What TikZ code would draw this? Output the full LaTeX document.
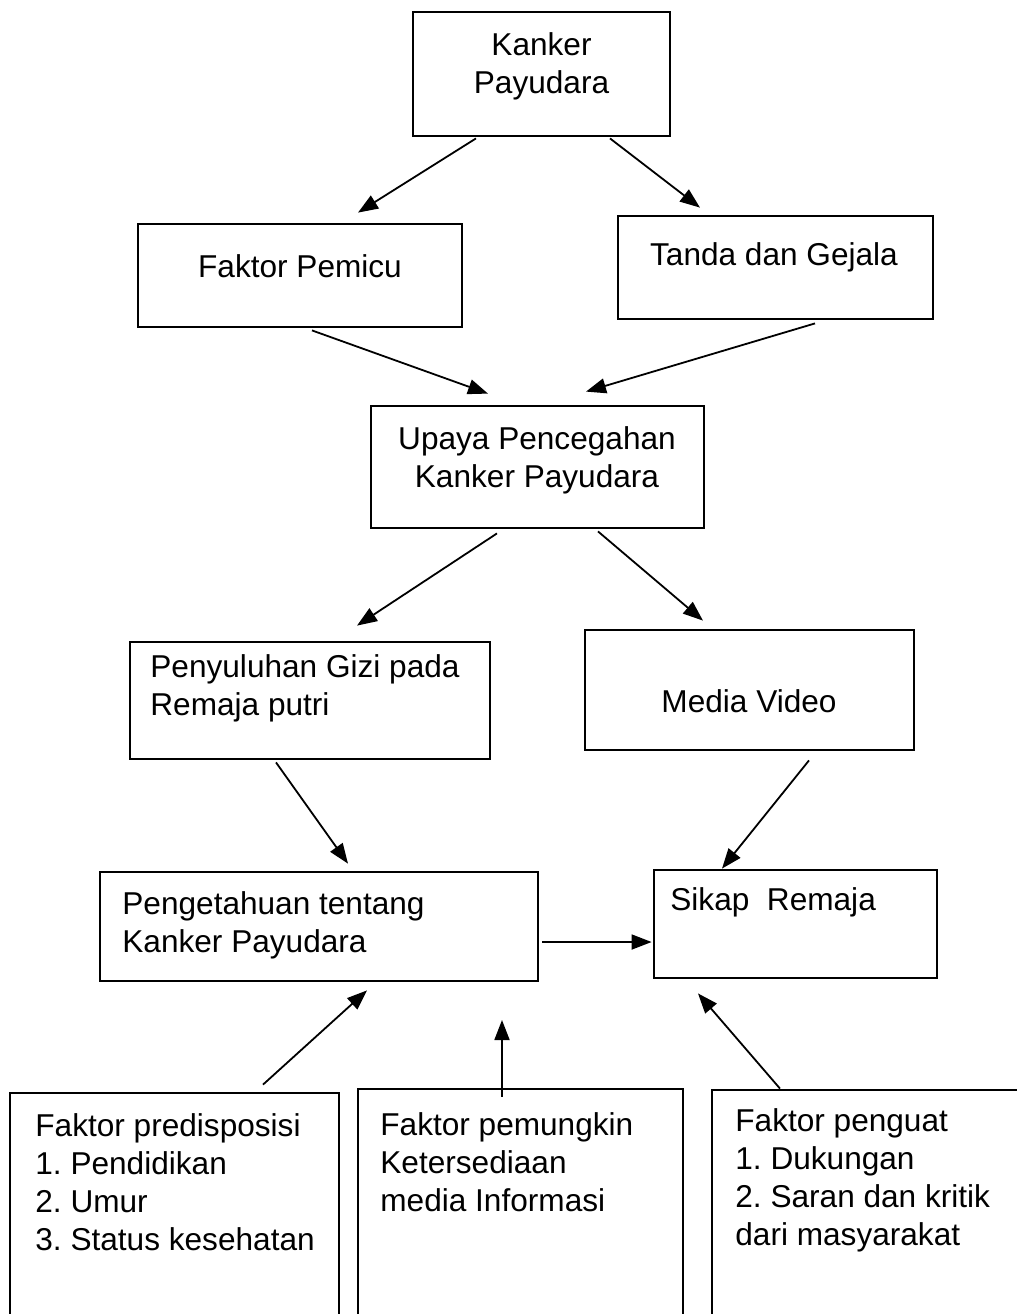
\documentclass[tikz,border=0pt]{standalone}
\usepackage{fontspec}
\setmainfont{Liberation Sans}
\usetikzlibrary{calc}
\usetikzlibrary{arrows.meta}
\frenchspacing

\tikzset{
  box/.style={draw, line width=1.4pt, inner sep=0pt},
  txt/.style={inner sep=0pt, font=\fontsize{15.8}{19}\selectfont},
  link/.style={line width=0.9pt, -{Triangle[length=10pt,width=7.5pt]}},
}

\begin{document}
\begin{tikzpicture}[x=0.5pt, y=-0.5pt]
            \useasboundingbox (0,0) rectangle (1017,1314);
            \clip (0,0) rectangle (1017,1314);
            % Top levels
            \node[box, minimum width=128.5pt, minimum height=62pt]   (kanker)      at (541.5,  74.0) {};
            \node[box, minimum width=162.0pt, minimum height=51.5pt] (pemicu)      at (300.0, 275.5) {};
            \node[box, minimum width=157.5pt, minimum height=51.5pt] (tanda)       at (775.5, 267.5) {};
            \node[box, minimum width=166.5pt, minimum height=61pt]   (upaya)       at (537.5, 467.0) {};
            \node[box, minimum width=180.0pt, minimum height=58.5pt] (penyuluhan)  at (310.0, 700.5) {};
            \node[box, minimum width=164.5pt, minimum height=60pt]   (media)       at (749.5, 690.0) {};
            \node[box, minimum width=219.0pt, minimum height=54.5pt] (pengetahuan) at (319.0, 926.5) {};
            \node[box, minimum width=141.5pt, minimum height=54pt]   (sikap)       at (795.5, 924.0) {};
            % Factor boxes (run off the page)
            \node[box, minimum width=164.5pt, minimum height=153.5pt] (pred)      at (174.5,1246.5) {};
            \node[box, minimum width=162.5pt, minimum height=155.5pt] (pemungkin) at (520.5,1244.5) {};
            \node[box, minimum width=169.0pt, minimum height=155pt]   (penguat)   at (881.0,1245.0) {};
            % Texts
            \node[txt, align=center]             (kankertxt)      at (541.5,  66) {Kanker\\Payudara};
            \node[txt]                           (pemicutxt)      at (300.0, 266) {Faktor Pemicu};
            \node[txt]                           (tandatxt)       at (774.0, 257) {Tanda dan Gejala};
            \node[txt, align=center]             (upayatxt)       at (537.0, 460) {Upaya Pencegahan\\Kanker Payudara};
            \node[txt, align=left, anchor=west]  (penyuluhantxt)  at (150.0, 688) {Penyuluhan Gizi pada\\Remaja putri};
            \node[txt]                           (mediatxt)       at (749.0, 701) {Media Video};
            \node[txt, align=left, anchor=west]  (pengetahuantxt) at (122.0, 925) {Pengetahuan tentang\\Kanker Payudara};
            \node[txt, anchor=west]              (sikaptxt)       at (670.0, 902) {Sikap\ \ Remaja};
            \node[txt, align=left, anchor=west]  (predtxt)        at ( 35.0,1182) {Faktor predisposisi\\1. Pendidikan\\2. Umur\\3. Status kesehatan};
            \node[txt, align=left, anchor=west]  (pemungkintxt)   at (380.0,1162) {Faktor pemungkin\\Ketersediaan\\media Informasi};
            \node[txt, align=left, anchor=west]  (penguattxt)     at (735.0,1180) {Faktor penguat\\1. Dukungan\\2. Saran dan kritik\\dari masyarakat};
            % Connectors
            \coordinate (mid) at (502,1020);
            \draw[link] ($(kanker.south)+(-65.5,1)$)   -- ($(pemicu.north)+(58,-10)$);
            \draw[link] ($(kanker.south)+(68.5,1)$)    -- ($(tanda.north)+(-75.5,-7)$);
            \draw[link] ($(pemicu.south)+(12,2)$)      -- ($(upaya.north)+(-49.5,-11)$);
            \draw[link] ($(tanda.south)+(39.5,3)$)     -- ($(upaya.north)+(48.5,-13)$);
            \draw[link] ($(upaya.south)+(-40.5,4)$)    -- ($(penyuluhan.north)+(47,-15)$);
            \draw[link] ($(upaya.south)+(60.5,2)$)     -- ($(media.north)+(-46.5,-8)$);
            \draw[link] ($(penyuluhan.south)+(-34,2)$) -- ($(pengetahuan.north)+(29,-7)$);
            \draw[link] ($(media.south)+(59.5,9)$)     -- ($(sikap.north)+(-73.5,0)$);
            \draw[link] ($(pengetahuan.east)+(3,15.5)$) -- ($(sikap.west)+(-1,18)$);
            \draw[link] ($(pred.north)+(88.5,-7)$)     -- ($(pengetahuan.south)+(48,8)$);
            \draw[link] ($(pemungkin.north)+(-18.5,9)$) -- (mid);
            \draw[link] ($(penguat.north)+(-101,0)$)   -- ($(sikap.south)+(-97.5,14)$);
\end{tikzpicture}
\end{document}
